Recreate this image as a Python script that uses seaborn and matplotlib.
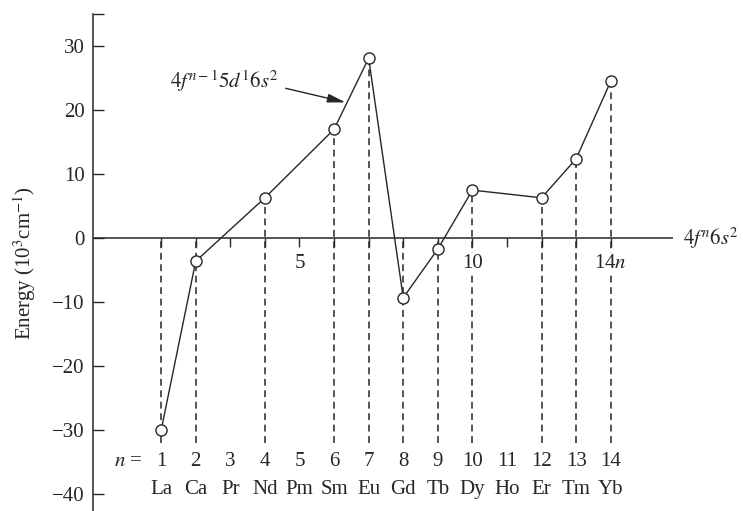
import numpy as np
import pandas as pd
import matplotlib
matplotlib.use("Agg")
import matplotlib.pyplot as plt
import seaborn as sns

# Energy of the 4f^(n-1)5d^1 6s^2 configuration relative to 4f^n 6s^2
n_values = [1, 2, 4, 6, 7, 8, 9, 10, 12, 13, 14]
energy = [-30.0, -3.6, 6.3, 17.0, 28.1, -9.3, -1.7, 7.5, 6.3, 12.4, 24.5]
elements = ["La", "Ca", "Pr", "Nd", "Pm", "Sm", "Eu",
            "Gd", "Tb", "Dy", "Ho", "Er", "Tm", "Yb"]
n_all = list(range(1, 15))
axis_ticks = [5, 10, 14]
axis_tick_labels = ["5", "10", "14$n$"]
y_ticks = [30, 20, 10, 0, -10, -20, -30, -40]

df = pd.DataFrame({"n": n_values, "energy": energy})

sns.set_theme(style="white")
plt.rcParams["font.family"] = ["Liberation Serif", "DejaVu Serif"]
plt.rcParams["mathtext.fontset"] = "stix"

ink = "#262626"
fs = 15

fig = plt.figure(figsize=(7.43, 5.11), dpi=100)
ax = fig.add_axes([93 / 743, 0.0, (673 - 93) / 743, 1 - 14 / 511])
ax.set_xlim(-0.97, 15.8)
ax.set_ylim(-42.6, 35)

# dashed drop lines from each point (or the zero line) down to the labels
tops = np.maximum(np.array(energy), 0)
ax.vlines(n_values, ymin=-32.0, ymax=tops, colors=ink, linestyles=(0, (4.5, 3)),
          linewidth=1.1, zorder=1)

# small ticks under the zero line at every n
ax.vlines(n_all, ymin=-1.35, ymax=0, colors=ink, linewidth=1.0, zorder=1)

# zero line
ax.axhline(0, color=ink, linewidth=1.1, zorder=1)

sns.lineplot(data=df, x="n", y="energy", sort=False, ax=ax, color=ink,
             linewidth=1.0, marker="o", markersize=8,
             markerfacecolor="white", markeredgecolor=ink,
             markeredgewidth=1.0, zorder=3)

# axis tick labels sitting on the drop lines
for x, lab in zip(axis_ticks, axis_tick_labels):
    ax.text(x, -4.0, lab, ha="center", va="center", fontsize=fs, color=ink,
            bbox=dict(boxstyle="square,pad=0.08", fc="white", ec="none"),
            zorder=4)

ax.text(16.1, 0, "$4f^{n}6s^{2}$", ha="left", va="center", fontsize=fs,
        color=ink, clip_on=False)

# n row and element row
ax.text(0.45, -34.8, "$n$ =", ha="right", va="center", fontsize=fs, color=ink)
for x, el in zip(n_all, elements):
    ax.text(x, -34.8, str(x), ha="center", va="center", fontsize=fs, color=ink)
    ax.text(x, -39.3, el, ha="center", va="center", fontsize=fs, color=ink)

# configuration annotation
ax.text(1.26, 24.5, "$4f^{n-1}5d^{1}6s^{2}$", ha="left", va="center",
        fontsize=fs, color=ink)
ax.annotate("", xy=(6.33, 21.2), xytext=(4.6, 23.4),
            arrowprops=dict(arrowstyle="-|>,head_length=0.9,head_width=0.22",
                            color=ink, lw=1.0, shrinkA=0, shrinkB=0))

# axes styling
for side in ["top", "right", "bottom"]:
    ax.spines[side].set_visible(False)
ax.spines["left"].set_color(ink)
ax.spines["left"].set_linewidth(1.1)
ax.set_xticks([])
ax.set_yticks(y_ticks)
ax.set_yticklabels([str(t).replace("-", "\u2212") for t in y_ticks],
                   fontsize=fs, color=ink)
ax.set_yticks([35], minor=True)
ax.tick_params(axis="y", which="both", direction="in", length=8, width=1.0,
               color=ink, left=True, pad=6)
ax.set_xlabel("")
ax.set_ylabel("Energy (10$^{3}$cm$^{-1}$)", fontsize=fs, color=ink)
ax.yaxis.set_label_coords(-55 / 580, (511 - 263) / 497)

fig.savefig("out.png", dpi=100, facecolor="white")
